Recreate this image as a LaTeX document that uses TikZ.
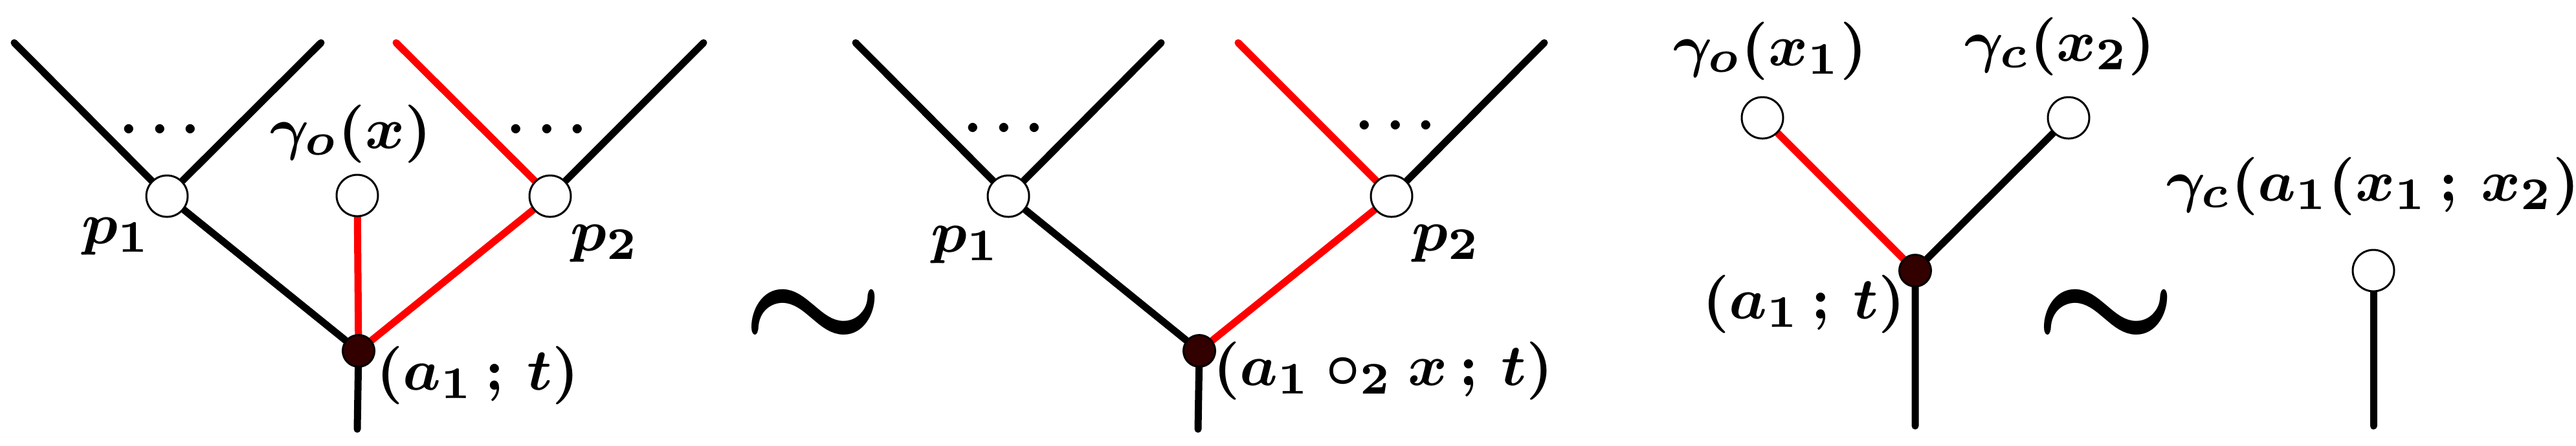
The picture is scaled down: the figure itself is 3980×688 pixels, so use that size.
\documentclass[tikz,border=0pt]{standalone}
\usepackage{amsmath,amssymb}
\usetikzlibrary{positioning}
\pgfdeclarelayer{bg}
\pgfsetlayers{bg,main}
\definecolor{rootfill}{RGB}{51,0,0}
\tikzset{
  leaf/.style={circle,draw,fill=white,line width=0.3pt,inner sep=0pt,minimum size=6.4pt},
  root/.style={circle,draw,fill=rootfill,line width=0.3pt,inner sep=0pt,minimum size=4.9pt},
  branch/.style={line width=1.1pt,line cap=round},
  redbranch/.style={branch,red},
  lbl/.style={inner sep=0pt,font=\fontsize{9.5}{11.4}\selectfont\boldmath},
  simlbl/.style={inner sep=0pt,font=\fontsize{25}{30}\selectfont\boldmath},
}
\begin{document}
\begin{tikzpicture}[x=0.1pt,y=0.1pt,yscale=-1,xscale=1]
    \useasboundingbox (0,0) rectangle (3980,688);

    %first tree
    \coordinate (tA1) at (22,66);
    \coordinate (tA2) at (496,66);
    \coordinate (tA3) at (612,66);
    \coordinate (tA4) at (1087,66);
    \coordinate (sA) at (552,663);
    \node[leaf] (pA1) at (258,303) {};
    \node[leaf] (gA) at (552,302) {};
    \node[leaf] (pA2) at (850,303) {};
    \node[root] (rA) at (554,542) {};

    %second tree
    \coordinate (tB1) at (1322,66);
    \coordinate (tB2) at (1794,66);
    \coordinate (tB3) at (1913,66);
    \coordinate (tB4) at (2386,66);
    \coordinate (sB) at (1851,663);
    \node[leaf] (pB1) at (1558,303) {};
    \node[leaf] (pB2) at (2150,303) {};
    \node[root] (rB) at (1853,542) {};

    %third tree
    \coordinate (sC) at (2959,658);
    \node[leaf] (gC1) at (2723,182) {};
    \node[leaf] (gC2) at (3196,182) {};
    \node[root] (rC) at (2959,418) {};

    %single leaf
    \coordinate (sD) at (3667,658);
    \node[leaf] (gD) at (3667,418) {};

    %Straight Lines
    \begin{pgfonlayer}{bg}
    \draw[branch] (tA1) -- (pA1) -- (tA2);
    \draw[redbranch] (tA3) -- (pA2);
    \draw[branch] (pA2) -- (tA4);
    \draw[branch] (pA1) -- (rA) -- (sA);
    \draw[redbranch] (gA) -- (rA) -- (pA2);

    \draw[branch] (tB1) -- (pB1) -- (tB2);
    \draw[redbranch] (tB3) -- (pB2);
    \draw[branch] (pB2) -- (tB4);
    \draw[branch] (pB1) -- (rB) -- (sB);
    \draw[redbranch] (rB) -- (pB2);

    \draw[redbranch] (gC1) -- (rC);
    \draw[branch] (gC2) -- (rC) -- (sC);

    \draw[branch] (gD) -- (sD);
    \end{pgfonlayer}

    % Text Node
    \node[lbl] (dA1) at (247,199) {$\ldots$};
    \node[lbl] (dA2) at (845,199) {$\ldots$};
    \node[lbl] (dB1) at (1551,197) {$\ldots$};
    \node[lbl] (dB2) at (2156,193) {$\ldots$};
    % Text Node
    \node[lbl] (lpA1) at (180,365) {$p_1$};
    \node[lbl] (lgA) at (542,207) {$\gamma_o(x)$};
    \node[lbl] (lpA2) at (935,376) {$p_2$};
    \node[lbl] (lrA) at (738,580) {$(a_1\,;\,t)$};
    % Text Node
    \node[lbl] (lpB1) at (1492,378) {$p_1$};
    \node[lbl] (lpB2) at (2235,376) {$p_2$};
    \node[lbl] (lrB) at (2137,573) {$(a_1\circ_2 x\,;\,t)$};
    % Text Node
    \node[lbl] (lgC1) at (2735,79) {$\gamma_o(x_1)$};
    \node[lbl] (lgC2) at (3183,72) {$\gamma_c(x_2)$};
    \node[lbl] (lrC) at (2787,470) {$(a_1\,;\,t)$};
    \node[lbl,anchor=west] (lgD) at (3345,288) {$\gamma_c(a_1(x_1\,;\,x_2))$};
    % Text Node
    \node[simlbl] (simA) at (1257,496) {$\sim$};
    \node[simlbl] (simB) at (3254,496) {$\sim$};

\end{tikzpicture}
\end{document}
